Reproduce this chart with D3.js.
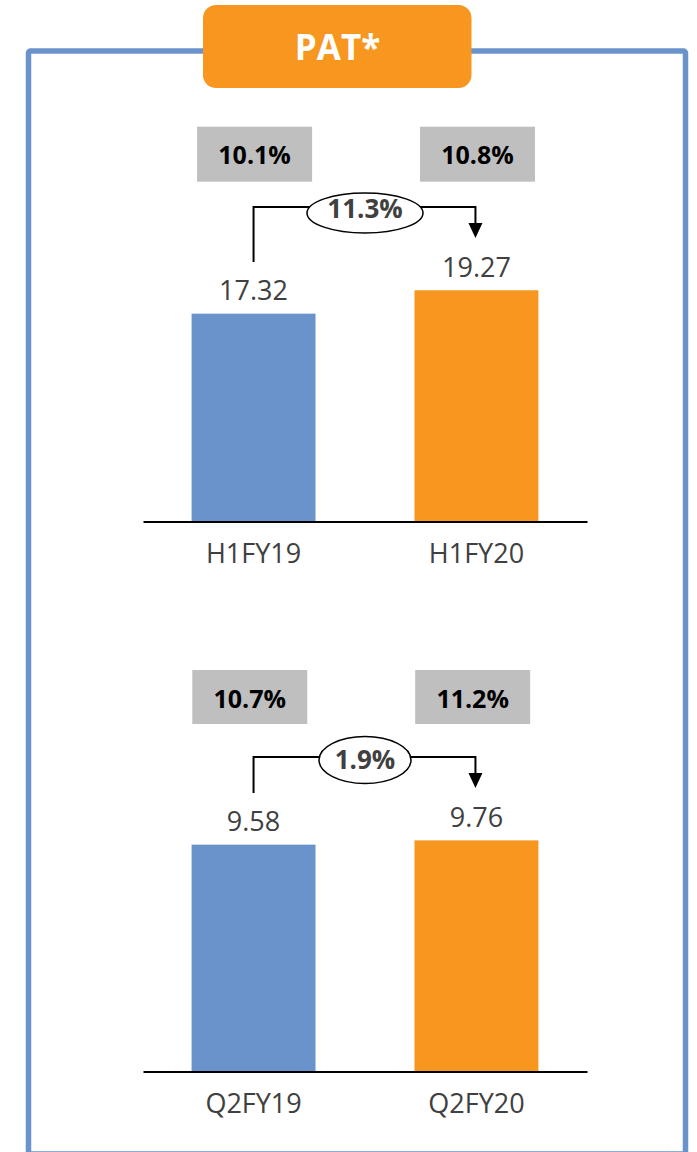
<!DOCTYPE html>
<html>
<head>
<meta charset="utf-8">
<script src="https://cdn.jsdelivr.net/npm/d3@7"></script>
<style>
  html, body { margin: 0; padding: 0; background: #fff; }
  svg { display: block; }
  text { font-family: "Open Sans", "DejaVu Sans", sans-serif; }
</style>
</head>
<body>
<svg id="chart" width="697" height="1152"></svg>
<script>
// ---- DATA ----
const title = "PAT*";
const categoriesH1 = ["H1FY19", "H1FY20"];
const valuesH1 = [17.32, 19.27];
const marginsH1 = ["10.1%", "10.8%"];
const growthH1 = "11.3%";

const categoriesQ2 = ["Q2FY19", "Q2FY20"];
const valuesQ2 = [9.58, 9.76];
const marginsQ2 = ["10.7%", "11.2%"];
const growthQ2 = "1.9%";

// ---- STYLE ----
const BLUE = "#6A93CC", ORANGE = "#F7971F", GREY_BOX = "#BFBFBF", TEXT = "#404040";
const barColors = [BLUE, ORANGE];

const svg = d3.select("#chart");

// outer frame
svg.append("rect")
  .attr("x", 28.5).attr("y", 51)
  .attr("width", 657).attr("height", 1103)
  .attr("rx", 2)
  .attr("fill", "none")
  .attr("stroke", BLUE)
  .attr("stroke-width", 5.5);

// title box
svg.append("rect")
  .attr("x", 203).attr("y", 5)
  .attr("width", 268.5).attr("height", 83)
  .attr("rx", 13)
  .attr("fill", ORANGE);
svg.append("text")
  .attr("x", 337.5).attr("y", 60)
  .attr("text-anchor", "middle")
  .attr("font-size", 35).attr("font-weight", 700)
  .attr("fill", "#fff")
  .text(title);

const panels = [
  { cats: categoriesH1, vals: valuesH1, margins: marginsH1, growth: growthH1,
    base: 521.5, unitMax: 20, unitPx: 240,
    boxY: 126.7, boxH: 55, boxOff: 5.5, boxW: 115, boxTextDy: 10,
    lineY: 207, leftBottom: 262, arrowTip: 238,
    ell: { cx: 365, cy: 213, rx: 58, ry: 20 }, growthBaseline: 218 },
  { cats: categoriesQ2, vals: valuesQ2, margins: marginsQ2, growth: growthQ2,
    base: 1071.5, unitMax: 10, unitPx: 236.8,
    boxY: 670, boxH: 54, boxOff: 0.7, boxW: 115, boxTextDy: 11,
    lineY: 757, leftBottom: 793, arrowTip: 788,
    ell: { cx: 365, cy: 760, rx: 46, ry: 23.5 }, growthBaseline: 768.5 }
];

panels.forEach(p => {
  const g = svg.append("g");
  const x = d3.scaleBand().domain(p.cats).range([143, 587])
    .paddingInner(0.444).paddingOuter(0.218);
  const y = d3.scaleLinear().domain([0, p.unitMax]).range([p.base, p.base - p.unitPx]);

  // bars
  g.selectAll("rect.bar").data(p.vals).join("rect")
    .attr("class", "bar")
    .attr("x", (d, i) => x(p.cats[i]))
    .attr("y", d => y(d))
    .attr("width", x.bandwidth())
    .attr("height", d => y(0) - y(d))
    .attr("fill", (d, i) => barColors[i]);

  // baseline axis
  const axis = d3.axisBottom(x).tickSize(0).tickPadding(20);
  const ax = g.append("g").attr("transform", `translate(0,${p.base})`).call(axis);
  ax.select(".domain").attr("stroke", "#000").attr("stroke-width", 2.2);
  ax.selectAll(".tick text")
    .attr("font-size", 27).attr("fill", TEXT)
    .attr("font-family", "'Open Sans', sans-serif")
    .attr("dy", 0).attr("y", 41.5);

  // value labels
  g.selectAll("text.val").data(p.vals).join("text")
    .attr("class", "val")
    .attr("x", (d, i) => x(p.cats[i]) + x.bandwidth() / 2)
    .attr("y", d => y(d) - 13.5)
    .attr("text-anchor", "middle")
    .attr("font-size", 27).attr("fill", TEXT)
    .text(d => d.toFixed(2));

  // margin boxes
  g.selectAll("rect.mbox").data(p.margins).join("rect")
    .attr("class", "mbox")
    .attr("x", (d, i) => x(p.cats[i]) + p.boxOff)
    .attr("y", p.boxY)
    .attr("width", p.boxW).attr("height", p.boxH)
    .attr("fill", GREY_BOX);
  g.selectAll("text.mtxt").data(p.margins).join("text")
    .attr("class", "mtxt")
    .attr("x", (d, i) => x(p.cats[i]) + p.boxOff + p.boxW / 2)
    .attr("y", p.boxY + p.boxH / 2 + p.boxTextDy)
    .attr("text-anchor", "middle")
    .attr("font-size", 25).attr("font-weight", 700).attr("fill", "#000")
    .text(d => d);

  // connector
  const xl = x(p.cats[0]) + x.bandwidth() / 2;
  const xr = x(p.cats[1]) + x.bandwidth() / 2 - 1;
  const headLen = 15;
  g.append("path")
    .attr("d", `M${xl},${p.leftBottom}V${p.lineY}H${xr}V${p.arrowTip - headLen}`)
    .attr("fill", "none").attr("stroke", "#000").attr("stroke-width", 2);
  g.append("path")
    .attr("d", `M${xr - 7},${p.arrowTip - headLen}L${xr + 7},${p.arrowTip - headLen}L${xr},${p.arrowTip}Z`)
    .attr("fill", "#000");

  g.append("ellipse")
    .attr("cx", p.ell.cx).attr("cy", p.ell.cy)
    .attr("rx", p.ell.rx).attr("ry", p.ell.ry)
    .attr("fill", "#fff").attr("stroke", "#000").attr("stroke-width", 1.5);
  g.append("text")
    .attr("x", p.ell.cx).attr("y", p.growthBaseline)
    .attr("text-anchor", "middle")
    .attr("font-size", 26).attr("font-weight", 700).attr("fill", TEXT)
    .text(p.growth);
});
</script>
</body>
</html>
